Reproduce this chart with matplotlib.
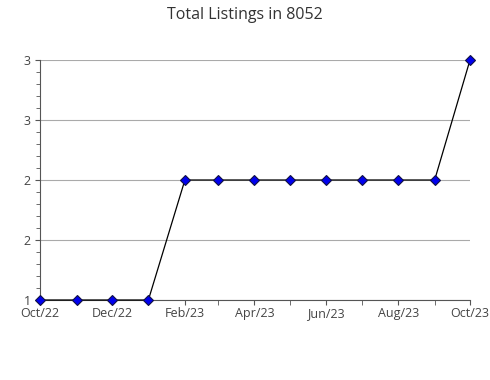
import math
import matplotlib
matplotlib.use('Agg')
import matplotlib.pyplot as plt
import matplotlib.dates as mdates
from matplotlib.ticker import FuncFormatter, MultipleLocator
from datetime import date

plt.rcParams['font.family'] = ['Open Sans', 'DejaVu Sans']

months = [date(2022, 10, 1), date(2022, 11, 1), date(2022, 12, 1),
          date(2023, 1, 1), date(2023, 2, 1), date(2023, 3, 1),
          date(2023, 4, 1), date(2023, 5, 1), date(2023, 6, 1),
          date(2023, 7, 1), date(2023, 8, 1), date(2023, 9, 1),
          date(2023, 10, 1)]
listings = [1, 1, 1, 1, 2, 2, 2, 2, 2, 2, 2, 2, 3]

fig = plt.figure(figsize=(4.9, 3.8), dpi=100)
ax = fig.add_axes([40 / 490, 1 - 300 / 380, 430 / 490, 240 / 380])

ax.plot(months, listings, color='black', linewidth=0.9, zorder=3,
        marker='D', markersize=5, markerfacecolor='#0000ee',
        markeredgecolor='#111144', markeredgewidth=0.8, clip_on=False)

ax.set_ylim(1, 3)
ax.set_xlim(months[0], months[-1])
ax.yaxis.set_major_locator(MultipleLocator(0.5))
ax.yaxis.set_minor_locator(MultipleLocator(0.1))
ax.yaxis.set_major_formatter(FuncFormatter(lambda v, p: '%d' % math.floor(v + 0.5)))

ax.xaxis.set_major_locator(mdates.MonthLocator(bymonth=[2, 4, 6, 8, 10, 12]))
ax.xaxis.set_minor_locator(mdates.MonthLocator())
ax.xaxis.set_major_formatter(mdates.DateFormatter('%b/%y'))

ax.grid(axis='y', which='major', color='#aaaaaa', linewidth=0.8)
for s in ['top', 'right']:
    ax.spines[s].set_visible(False)
for s in ['left', 'bottom']:
    ax.spines[s].set_color('#555555')
    ax.spines[s].set_linewidth(0.8)

ax.tick_params(axis='both', which='both', color='#555555', labelcolor='#444444',
               labelsize=9)
ax.tick_params(axis='x', which='both', length=3.6, pad=8.6)
ax.tick_params(axis='y', which='major', length=3.6, pad=3)
ax.tick_params(axis='y', which='minor', length=3)

fig.text(0.5, 1 - 15 / 380, 'Total Listings in 8052', fontsize=11.5,
         color='#333333', ha='center', va='center')

# keep month labels on one baseline (the J of Jun dips otherwise)
fig.canvas.draw()
for tick in ax.xaxis.get_major_ticks():
    tick.label1.set_verticalalignment('baseline')

fig.savefig('out.png', dpi=100)
